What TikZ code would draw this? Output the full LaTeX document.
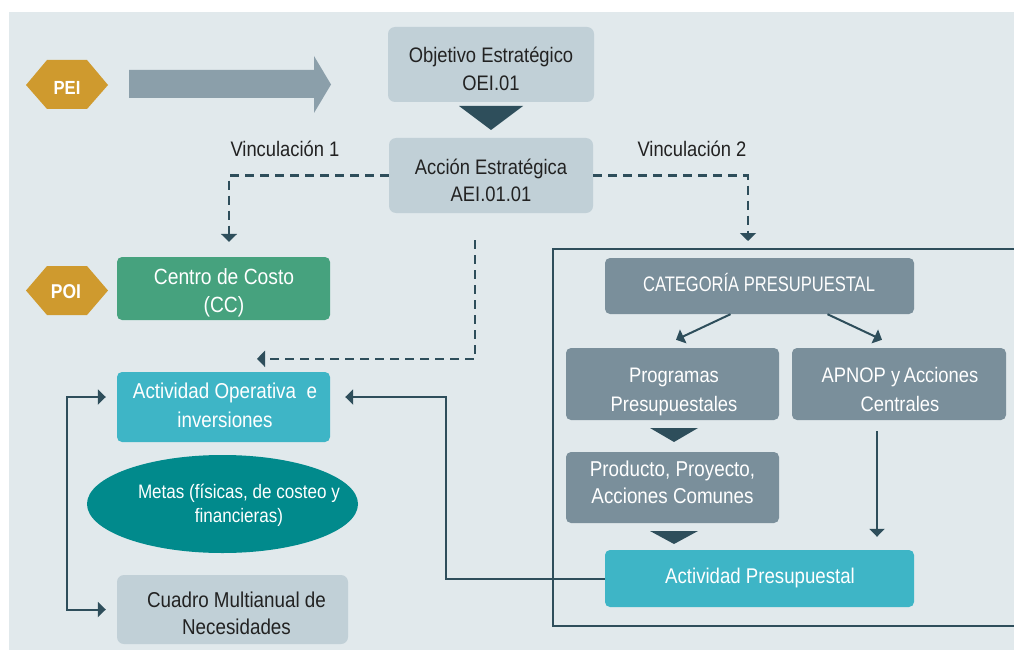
\documentclass[tikz,border=0pt]{standalone}
\usepackage{fontspec}
\setmainfont{Liberation Sans}[FakeStretch=0.875]
\usetikzlibrary{arrows.meta,shapes.geometric}
\definecolor{bg}{HTML}{E1E9EC}
\definecolor{lbox}{HTML}{C1D0D7}
\definecolor{dk}{HTML}{2E4E5B}
\definecolor{gold}{HTML}{CF9A2E}
\definecolor{barrow}{HTML}{8B9FAA}
\definecolor{ccgreen}{HTML}{46A27E}
\definecolor{cyanbox}{HTML}{3EB5C6}
\definecolor{tealell}{HTML}{018A8C}
\definecolor{slate}{HTML}{7A8F9B}
\definecolor{txtdk}{HTML}{222222}
\begin{document}
\begin{tikzpicture}[x=1pt,y=-1pt,
  bx/.style={rectangle, rounded corners=7pt, inner sep=0pt},
  fs/.style 2 args={font=\fontsize{#1}{#2}\selectfont},
  tx/.style={inner sep=0pt, align=center},
  arr/.style={draw=dk, line width=2pt, -{Triangle[width=15pt,length=8pt]}},
  dsh/.style={draw=dk, line width=2.2pt, dash pattern=on 9pt off 6pt, -{Triangle[width=16pt,length=8pt]}},
]
\useasboundingbox (0,0) rectangle (1014,650);
\clip (0,0) rectangle (1014,650);
\fill[white] (0,0) rectangle (1014,650);
\fill[bg] (9,12) rectangle (1014,650);

% PEI hexagon and big arrow
\fill[gold] (26,85) -- (47,60) -- (87,60) -- (108,85) -- (87,109) -- (47,109) -- cycle;
\node[anchor=base, inner sep=0pt, font=\fontsize{19}{22}\selectfont\bfseries, text=white] (pei) at (67,95) {PEI};
\fill[barrow] (129,70) -- (314,70) -- (314,56) -- (331,84.5) -- (314,113) -- (314,98) -- (129,98) -- cycle;

% Objetivo / Accion
\node[bx, fill=lbox, minimum width=206pt, minimum height=75pt] (obj) at (491,64.5) {};
\node[tx, fs={21}{28}, text=txtdk] (objt) at (491,68.4) {Objetivo Estratégico\\OEI.01};
\fill[dk] (459,106) -- (523,106) -- (491,130) -- cycle;
\node[bx, fill=lbox, minimum width=204pt, minimum height=75pt] (acc) at (491,175.5) {};
\node[tx, fs={21}{26.6}, text=txtdk] (acct) at (491,180.3) {Acción Estratégica\\AEI.01.01};

\node[anchor=base, inner sep=0pt, fs={21}{25}, text=txtdk] (v1) at (285,156) {Vinculación 1};
\node[anchor=base, inner sep=0pt, fs={21}{25}, text=txtdk] (v2) at (692,156) {Vinculación 2};

% POI + Centro de costo
\fill[gold] (26,290.5) -- (47,266) -- (87,266) -- (108,290.5) -- (87,315) -- (47,315) -- cycle;
\node[anchor=base, inner sep=0pt, font=\fontsize{20}{22}\selectfont\bfseries, text=white] (poi) at (66,298) {POI};
\node[bx, rounded corners=5pt, fill=ccgreen, minimum width=213pt, minimum height=63pt] (cc) at (223.5,288.5) {};
\node[tx, fs={22}{28}, text=white] (cct) at (224,293.3) {Centro de Costo\\(CC)};

% Actividad operativa, metas, cuadro
\node[bx, rounded corners=5pt, fill=cyanbox, minimum width=213pt, minimum height=70pt] (ao) at (223.5,407) {};
\node[tx, fs={21.5}{29}, text=white] (aot) at (225,405.7) {Actividad Operativa\ \ e\\inversiones};
\node[ellipse, fill=tealell, minimum width=271pt, minimum height=98pt, inner sep=0pt] (metas) at (222.5,504) {};
\node[tx, fs={19.5}{24}, text=white] (metast) at (239,505.7) {Metas (físicas, de costeo y\\financieras)};
\node[bx, fill=lbox, minimum width=231pt, minimum height=69pt] (cuadro) at (232.5,609.5) {};
\node[tx, fs={21.5}{27}, text=txtdk] (cuadrot) at (236.5,613.7) {Cuadro Multianual de\\Necesidades};

% Frame and budget categories
\node[draw=dk, line width=2pt, minimum width=480pt, minimum height=377pt, inner sep=0pt] (frame) at (793,437.5) {};
\node[bx, rounded corners=5pt, fill=slate, minimum width=309pt, minimum height=56pt] (cat) at (759.5,286) {};
\node[anchor=base, inner sep=0pt, fs={21}{25}, text=white] (catt) at (759,291.7) {\scalebox{0.9}[1]{CATEGORÍA PRESUPUESTAL}};
\node[bx, rounded corners=5pt, fill=slate, minimum width=213pt, minimum height=72pt] (prog) at (672.5,384) {};
\node[tx, fs={21}{28.5}, text=white] (progt) at (674,391.8) {Programas\\Presupuestales};
\node[bx, rounded corners=5pt, fill=slate, minimum width=214pt, minimum height=72pt] (apnop) at (899,384) {};
\node[tx, fs={21}{28.5}, text=white] (apnopt) at (900,389.6) {APNOP y\,Acciones\\Centrales};
\fill[dk] (650,428) -- (698,428) -- (674,442) -- cycle;
\node[bx, rounded corners=5pt, fill=slate, minimum width=213pt, minimum height=71pt] (prod) at (672.5,487.5) {};
\node[tx, fs={21.5}{27.3}, text=white] (prodt) at (672.5,482.5) {Producto, Proyecto,\\Acciones Comunes};
\fill[dk] (650,531) -- (698,531) -- (674,544) -- cycle;
\node[bx, rounded corners=5pt, fill=cyanbox, minimum width=309pt, minimum height=57pt] (ap) at (759.5,578.5) {};
\node[anchor=base, inner sep=0pt, fs={21.3}{25}, text=white] (apt) at (760,583.3) {Actividad Presupuestal};

% Connectors
\draw[dsh] (acc.west) -| ([xshift=5.5pt,yshift=15pt]cc.north);
\draw[dsh] (acc.east) -| ([xshift=-45pt,yshift=7pt]frame.north);
\draw[dsh] ([xshift=-16pt,yshift=-27pt]acc.south) |- ([xshift=33.5pt,yshift=13pt]ao.north);
\draw[arr] ([xshift=-29pt]cat.south) -- ([xshift=3.5pt,yshift=8pt]prog.north);
\draw[arr] ([xshift=68pt]cat.south) -- ([xshift=-17pt,yshift=8pt]apnop.north);
\coordinate (apx) at ([xshift=-22pt]apnop.south);
\draw[arr, shorten <=11pt, shorten >=13pt] (apx) -- (apx |- ap.north);
\coordinate (elb) at (446,578.5);
\draw[arr] (ap.west) -- (elb) |- ([xshift=15pt,yshift=10pt]ao.east);
\coordinate (lb1) at (67,397);
\coordinate (lb2) at (67,609.5);
\draw[draw=dk, line width=2pt, {Triangle[width=15pt,length=8pt]}-{Triangle[width=15pt,length=8pt]}]
  ([xshift=-11pt,yshift=10pt]ao.west) -- (lb1) -- (lb2) -- ([xshift=-11pt]cuadro.west);
\end{tikzpicture}
\end{document}
